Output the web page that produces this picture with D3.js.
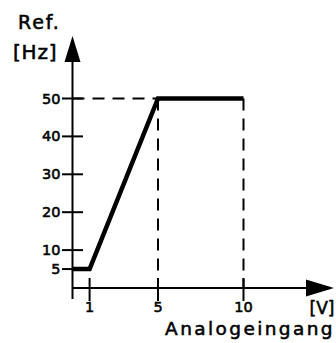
<!DOCTYPE html>
<html><head><meta charset="utf-8">
<script src="https://cdn.jsdelivr.net/npm/d3@7"></script>
<style>html,body{margin:0;padding:0;background:#fff;}svg{display:block;}
text{font-family:"DejaVu Sans";fill:#000;stroke:#000;stroke-width:0.55px;}</style>
</head><body>
<script>
const inputV = [0, 1, 5, 10];
const refHz = [5, 5, 50, 50];
const xTickValues = [1, 5, 10];
const yTickValues = [5, 10, 20, 30, 40, 50];
const yTitle = ["Ref.", "[Hz]"];
const xUnit = "[V]";
const xTitle = "Analogeingang";

const W = 336, H = 343;
const svg = d3.select("body").append("svg").attr("width", W).attr("height", H);
const x = d3.scaleLinear().domain([0, 10]).range([72.5, 243.5]);
const y = d3.scaleLinear().domain([0, 50]).range([288, 98.5]);

// dashed guide lines
const guides = [
  [[0, 50], [5, 50]],
  [[5, 50], [5, 0]],
  [[10, 50], [10, 0]]
];
svg.selectAll("line.guide").data(guides).enter().append("line")
  .attr("x1", d => x(d[0][0])).attr("y1", d => y(d[0][1]))
  .attr("x2", d => x(d[1][0])).attr("y2", d => y(d[1][1]))
  .attr("stroke", "#000").attr("stroke-width", 2)
  .attr("stroke-dasharray", "12,8");

// axes
const x0 = x(0), y0 = y(0);
svg.append("line").attr("x1", x0).attr("y1", 45).attr("x2", x0).attr("y2", 299)
  .attr("stroke", "#000").attr("stroke-width", 2);
svg.append("line").attr("x1", x0).attr("y1", y0).attr("x2", 315).attr("y2", y0)
  .attr("stroke", "#000").attr("stroke-width", 2);
// arrows
svg.append("path").attr("d", `M${x0},36 L${x0 - 8},62 L${x0 + 8},62 Z`).attr("fill", "#000");
svg.append("path").attr("d", `M334,${y0} L306,${y0 - 8.5} L306,${y0 + 8.5} Z`).attr("fill", "#000");

// y ticks
svg.selectAll("line.yt").data(yTickValues).enter().append("line")
  .attr("x1", x0 - 10.5).attr("x2", x0 + 10.5)
  .attr("y1", d => y(d)).attr("y2", d => y(d))
  .attr("stroke", "#000").attr("stroke-width", 2);
svg.selectAll("text.yt").data(yTickValues).enter().append("text")
  .attr("x", 60.5).attr("y", d => y(d) + 5)
  .attr("text-anchor", "end")
  .attr("font-size", 14.5)
  .text(d => d);

// x ticks
svg.selectAll("line.xt").data(xTickValues).enter().append("line")
  .attr("x1", d => x(d)).attr("x2", d => x(d))
  .attr("y1", y0 - 10).attr("y2", y0 + 13)
  .attr("stroke", "#000").attr("stroke-width", 2);
svg.selectAll("text.xt").data(xTickValues).enter().append("text")
  .attr("x", d => x(d)).attr("y", 312)
  .attr("text-anchor", "middle")
  .attr("font-size", 14.5)
  .text(d => d);

// data line
const pts = inputV.map((v, i) => [v, refHz[i]]);
svg.append("path").datum(pts)
  .attr("d", d3.line().x(d => x(d[0])).y(d => y(d[1])))
  .attr("fill", "none").attr("stroke", "#000").attr("stroke-width", 4.5)
  .attr("stroke-linejoin", "miter");

// titles
svg.append("text").attr("x", 18).attr("y", 29)
  .attr("font-size", 19)
  .attr("letter-spacing", 1.8).text(yTitle[0]);
svg.append("text").attr("x", 13).attr("y", 59)
  .attr("font-size", 20)
  .attr("letter-spacing", 0.8).text(yTitle[1]);
svg.append("text").attr("x", 322).attr("y", 314)
  .attr("text-anchor", "middle")
  .attr("font-size", 17)
  .text(xUnit);
svg.append("text").attr("x", 335).attr("y", 335)
  .attr("text-anchor", "end")
  .attr("font-size", 18.5)
  .attr("letter-spacing", 2.4).text(xTitle);
</script>
</body></html>
